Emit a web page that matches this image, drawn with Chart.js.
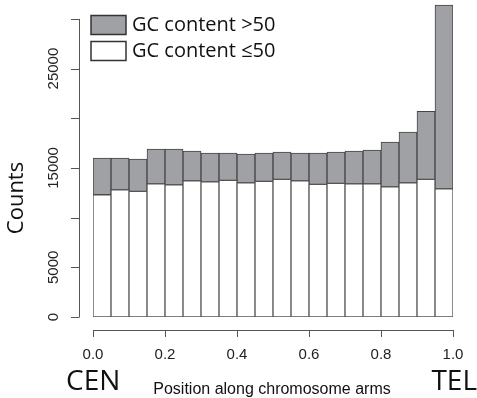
<!DOCTYPE html>
<html>
<head>
<meta charset="utf-8">
<script src="https://cdn.jsdelivr.net/npm/chart.js@4.4.1/dist/chart.umd.min.js"></script>
<style>
  body { margin: 0; background: #fff; }
  #wrap { width: 477px; height: 398px; position: relative; }
</style>
</head>
<body>
<div id="wrap"><canvas id="hist"></canvas></div>
<script>
// 20 bins along the chromosome arm (0 = centromere, 1 = telomere)
var bins = ["0.00","0.05","0.10","0.15","0.20","0.25","0.30","0.35","0.40","0.45",
            "0.50","0.55","0.60","0.65","0.70","0.75","0.80","0.85","0.90","0.95"];
var lowGC  = [12300,12800,12650,13400,13300,13700,13600,13750,13500,13650,
              13850,13700,13350,13450,13400,13400,13100,13500,13850,12900];
var highGC = [3700,3200,3250,3500,3600,3000,2900,2750,2900,2850,
              2750,2800,3150,3150,3300,3400,4500,5100,6850,18500];
var yTicks = [0,5000,10000,15000,20000,25000,30000];
var yLabels = [0,5000,15000,25000];   // R dropped the overlapping ones
var xTicks = [0,0.2,0.4,0.6,0.8,1.0];

var axesPlugin = {
  id: 'rAxes',
  afterDraw: function(chart) {
    var ctx = chart.ctx;
    var ys = chart.scales.y, xs = chart.scales.pos;
    var axX = 79, axY = 330;
    ctx.save();
    ctx.strokeStyle = '#555';
    ctx.lineWidth = 1;
    ctx.fillStyle = '#222';

    // y axis
    ctx.beginPath();
    ctx.moveTo(axX + 0.5, ys.getPixelForValue(0));
    ctx.lineTo(axX + 0.5, ys.getPixelForValue(30000));
    yTicks.forEach(function(v) {
      var p = Math.round(ys.getPixelForValue(v)) + 0.5;
      ctx.moveTo(axX + 0.5, p);
      ctx.lineTo(axX - 8, p);
    });
    ctx.stroke();
    ctx.font = '15px "Liberation Sans", Arial, sans-serif';
    ctx.textAlign = 'center';
    ctx.textBaseline = 'middle';
    yLabels.forEach(function(v) {
      ctx.save();
      ctx.translate(54, ys.getPixelForValue(v));
      ctx.rotate(-Math.PI / 2);
      ctx.fillText(String(v), 0, 0);
      ctx.restore();
    });

    // x axis
    ctx.beginPath();
    ctx.moveTo(xs.getPixelForValue(0), axY + 0.5);
    ctx.lineTo(xs.getPixelForValue(1), axY + 0.5);
    xTicks.forEach(function(v) {
      var p = Math.round(xs.getPixelForValue(v)) + 0.5;
      ctx.moveTo(p, axY);
      ctx.lineTo(p, axY + 7);
    });
    ctx.stroke();
    ctx.font = '15px "Liberation Sans", Arial, sans-serif';
    xTicks.forEach(function(v) {
      ctx.fillText(v.toFixed(1), xs.getPixelForValue(v), 355);
    });

    // axis titles
    ctx.fillStyle = '#111';
    ctx.font = '16px "Liberation Sans", Arial, sans-serif';
    ctx.textBaseline = 'alphabetic';
    ctx.fillText('Position along chromosome arms', 272, 394);
    ctx.font = '28px "Open Sans", sans-serif';
    ctx.textAlign = 'left';
    ctx.fillText('CEN', 66, 390);
    ctx.textAlign = 'right';
    ctx.fillText('TEL', 477, 390);
    ctx.save();
    ctx.translate(17, 198);
    ctx.rotate(-Math.PI / 2);
    ctx.textAlign = 'center';
    ctx.textBaseline = 'middle';
    ctx.font = '22px "Open Sans", sans-serif';
    ctx.fillText('Counts', 0, 0);
    ctx.restore();

    // legend
    var items = [chart.data.datasets[1], chart.data.datasets[0]];
    ctx.font = '20px "Open Sans", sans-serif';
    ctx.textAlign = 'left';
    ctx.textBaseline = 'middle';
    items.forEach(function(ds, i) {
      var top = 15.5 + i * 26;
      ctx.fillStyle = ds.backgroundColor;
      ctx.fillRect(91, top, 35, 19);
      ctx.strokeStyle = '#333';
      ctx.lineWidth = 1.5;
      ctx.strokeRect(91, top, 35, 19);
      ctx.fillStyle = '#111';
      ctx.fillText(ds.label, 132, top + 10);
    });
    ctx.restore();
  }
};

new Chart(document.getElementById('hist'), {
  type: 'bar',
  data: {
    labels: bins,
    datasets: [{
        label: 'GC content \u226450',
        data: lowGC,
        backgroundColor: '#ffffff',
        borderColor: '#555',
        borderWidth: 1,
        borderSkipped: false
      }, {
        label: 'GC content >50',
        data: highGC,
        backgroundColor: '#a0a1a5',
        borderColor: '#444',
        borderWidth: 1,
        borderSkipped: false
      }
    ]
  },
  plugins: [axesPlugin],
  options: {
    responsive: true,
    maintainAspectRatio: false,
    animation: false,
    barPercentage: 1,
    categoryPercentage: 1,
    layout: { padding: { left: 93, right: 24, top: 1, bottom: 81 } },
    scales: {
      x: { display: false, stacked: true },
      pos: { type: 'linear', axis: 'x', position: 'bottom', display: false, offset: false, min: 0, max: 1 },
      y: { display: false, stacked: true, min: 0, max: 31800 }
    },
    plugins: {
      legend: { display: false },
      tooltip: { enabled: false }
    }
  }
});
</script>
</body>
</html>
